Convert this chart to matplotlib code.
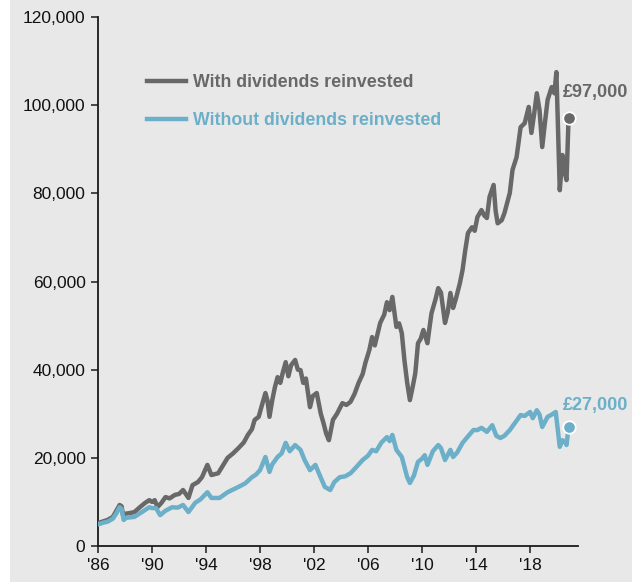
import matplotlib
matplotlib.use("Agg")
import matplotlib.pyplot as plt
from matplotlib.lines import Line2D
from matplotlib.patches import Rectangle
from matplotlib.ticker import FuncFormatter

# value of a £5,000 investment
with_years = [
    1986.0, 1986.4, 1986.7, 1987.1, 1987.4, 1987.6, 1987.75, 1987.85, 1988.0, 1988.4,
    1988.7, 1989.1, 1989.5, 1989.8, 1990.0, 1990.2, 1990.4, 1990.7, 1991.0, 1991.3,
    1991.7, 1992.0, 1992.3, 1992.7, 1993.0, 1993.4, 1993.7, 1994.1, 1994.4, 1994.9,
    1995.3, 1995.6, 1996.0, 1996.4, 1996.8, 1997.1, 1997.4, 1997.6, 1997.9, 1998.1,
    1998.4, 1998.55, 1998.7, 1998.9, 1999.1, 1999.3, 1999.5, 1999.7, 1999.9, 2000.1,
    2000.3, 2000.6, 2000.8, 2001.0, 2001.2, 2001.4, 2001.7, 2001.9, 2002.2, 2002.5,
    2002.7, 2002.9, 2003.1, 2003.4, 2003.7, 2004.1, 2004.4, 2004.7, 2005.0, 2005.3,
    2005.6, 2005.8, 2006.1, 2006.3, 2006.5, 2006.9, 2007.2, 2007.4, 2007.6, 2007.8,
    2008.0, 2008.1, 2008.3, 2008.5, 2008.7, 2008.9, 2009.1, 2009.3, 2009.5, 2009.7,
    2009.9, 2010.1, 2010.4, 2010.55, 2010.7, 2011.0, 2011.2, 2011.4, 2011.7, 2011.9,
    2012.1, 2012.3, 2012.5, 2012.8, 2013.0, 2013.2, 2013.4, 2013.7, 2013.9, 2014.1,
    2014.4, 2014.6, 2014.8, 2015.0, 2015.3, 2015.45, 2015.6, 2015.9, 2016.1, 2016.5,
    2016.7, 2017.0, 2017.3, 2017.6, 2017.9, 2018.1, 2018.3, 2018.5, 2018.7, 2018.9,
    2019.1, 2019.3, 2019.6, 2019.8, 2019.95, 2020.2, 2020.4, 2020.55, 2020.7, 2020.85,
]
with_values = [
    5200, 5600, 5900, 6600, 8200, 9300, 9000, 7000, 7300, 7500,
    7700, 8800, 9800, 10400, 10000, 10400, 8800, 9800, 11100, 10800,
    11600, 11800, 12700, 10900, 13800, 14500, 15600, 18400, 16100, 16500,
    18500, 20000, 21000, 22200, 23500, 25200, 26500, 28600, 29300, 31500,
    34700, 33000, 29300, 33000, 36000, 38300, 37000, 39500, 41700, 38500,
    41000, 42200, 40000, 39900, 37000, 38000, 31500, 34000, 34700, 30000,
    27900, 25500, 24000, 28600, 30000, 32400, 32000, 32700, 34500, 37000,
    39000, 41500, 44500, 47400, 45500, 50600, 52500, 55300, 53500, 56500,
    52000, 49700, 50500, 48300, 42000, 37000, 33100, 36000, 39200, 46000,
    47000, 49000, 46000, 49500, 52800, 56000, 58500, 57500, 50600, 53000,
    57400, 54000, 56000, 59600, 62600, 67100, 71000, 72300, 71500, 74600,
    76200, 75000, 74400, 79200, 81900, 76000, 73200, 73900, 75500, 80100,
    85300, 88200, 95000, 95900, 99600, 93700, 98000, 102700, 98900, 90500,
    96000, 101200, 104100, 102700, 107500, 80700, 88700, 85000, 83000, 97000,
]

without_years = [
    1986.0, 1986.4, 1986.7, 1987.1, 1987.4, 1987.6, 1987.75, 1987.9, 1988.1, 1988.7,
    1989.1, 1989.5, 1989.8, 1990.0, 1990.3, 1990.6, 1991.0, 1991.5, 1991.9, 1992.3,
    1992.7, 1993.2, 1993.6, 1994.1, 1994.4, 1995.0, 1995.6, 1996.0, 1996.4, 1996.9,
    1997.4, 1997.7, 1998.0, 1998.4, 1998.7, 1998.9, 1999.3, 1999.6, 1999.9, 2000.2,
    2000.6, 2001.0, 2001.3, 2001.7, 2002.1, 2002.5, 2002.8, 2003.2, 2003.5, 2003.9,
    2004.3, 2004.7, 2005.1, 2005.6, 2006.0, 2006.3, 2006.6, 2007.0, 2007.4, 2007.6,
    2007.8, 2008.1, 2008.5, 2008.9, 2009.1, 2009.4, 2009.7, 2010.0, 2010.2, 2010.4,
    2010.8, 2011.2, 2011.4, 2011.7, 2012.1, 2012.3, 2012.6, 2013.0, 2013.3, 2013.8,
    2014.1, 2014.4, 2014.8, 2015.2, 2015.5, 2015.8, 2016.1, 2016.5, 2016.9, 2017.3,
    2017.6, 2018.0, 2018.2, 2018.5, 2018.7, 2018.9, 2019.3, 2019.6, 2019.9, 2020.2,
    2020.4, 2020.6, 2020.7, 2020.85,
]
without_values = [
    4900, 5300, 5500, 6200, 7600, 8800, 8400, 5900, 6400, 6600,
    7400, 8200, 8800, 8600, 8600, 7000, 8000, 8800, 8700, 9300,
    7700, 9800, 10600, 12200, 10900, 10900, 12200, 12800, 13400, 14200,
    15600, 16200, 17200, 20200, 16800, 18500, 20200, 21000, 23400, 21500,
    22900, 21800, 19500, 17200, 18400, 15500, 13400, 12700, 14500, 15600,
    15800, 16500, 17800, 19500, 20500, 21800, 21500, 23500, 24700, 23800,
    25200, 21800, 20200, 15600, 14300, 16000, 19100, 19800, 20600, 18400,
    21500, 22900, 22200, 19500, 21800, 20200, 21200, 23400, 24500, 26300,
    26300, 26800, 25900, 27400, 25000, 24500, 25000, 26300, 28000, 29700,
    29500, 30400, 29000, 30800, 29800, 27000, 29300, 29800, 30400, 22500,
    24000, 23600, 22900, 27000,
]

tick_years = [1986, 1990, 1994, 1998, 2002, 2006, 2010, 2014, 2018]
tick_labels = ["'86", "'90", "'94", "'98", "'02", "'06", "'10", "'14", "'18"]

GREY = "#686869"
BLUE = "#6cafc8"
BG = "#e8e8e8"

plt.rcParams["font.family"] = ["Liberation Sans", "DejaVu Sans"]

fig = plt.figure(figsize=(6.43, 5.82), dpi=100, facecolor="white")
fig.patches.append(Rectangle((10 / 643, 0), 622 / 643, 1, transform=fig.transFigure,
                             facecolor=BG, edgecolor="none", zorder=-10))
ax = fig.add_axes([98 / 643, 1 - 546 / 582, 480 / 643, 529 / 582])
ax.set_facecolor("none")

ax.plot(with_years, with_values, color=GREY, lw=3.2, solid_joinstyle="round", zorder=3)
ax.plot(without_years, without_values, color=BLUE, lw=3.2, solid_joinstyle="round", zorder=3)
ax.plot(with_years[-1], with_values[-1], "o", ms=9, color=GREY, mec="white", mew=1.3, zorder=4)
ax.plot(without_years[-1], without_values[-1], "o", ms=9, color=BLUE, mec="white", mew=1.3, zorder=4)

ax.annotate(f"£{with_values[-1]:,}", (with_years[-1], with_values[-1]), xytext=(-4, 12.5),
            textcoords="offset points", color=GREY, fontsize=13, fontweight="bold",
            ha="left", va="bottom")
ax.annotate(f"£{without_values[-1]:,}", (without_years[-1], without_values[-1]), xytext=(-4, 9),
            textcoords="offset points", color=BLUE, fontsize=13, fontweight="bold",
            ha="left", va="bottom")

handles = [Line2D([], [], color=GREY, lw=3.2), Line2D([], [], color=BLUE, lw=3.2)]
ax.legend(handles, ["With dividends reinvested", "Without dividends reinvested"],
          loc="upper left", bbox_to_anchor=(0.102, 0.8925), frameon=False,
          prop={"weight": "bold", "size": 12.75}, labelcolor="linecolor",
          handlelength=2.2, handletextpad=0.42, labelspacing=1.2,
          borderpad=0, borderaxespad=0)

ax.set_xlim(1986, 2021.55)
ax.set_ylim(0, 120000)
ax.set_xticks(tick_years)
ax.set_xticklabels(tick_labels)
ax.set_yticks(range(0, 120001, 20000))
ax.yaxis.set_major_formatter(FuncFormatter(lambda v, _: f"{int(v):,}"))

for side in ["top", "right"]:
    ax.spines[side].set_visible(False)
for side in ["left", "bottom"]:
    ax.spines[side].set_linewidth(1.3)
    ax.spines[side].set_color("#1a1a1a")
ax.tick_params(axis="both", direction="out", length=5, width=1.1, color="#1a1a1a",
               labelsize=12.5, labelcolor="#111111", pad=4)

fig.savefig("out.png", dpi=100, facecolor=fig.get_facecolor())
